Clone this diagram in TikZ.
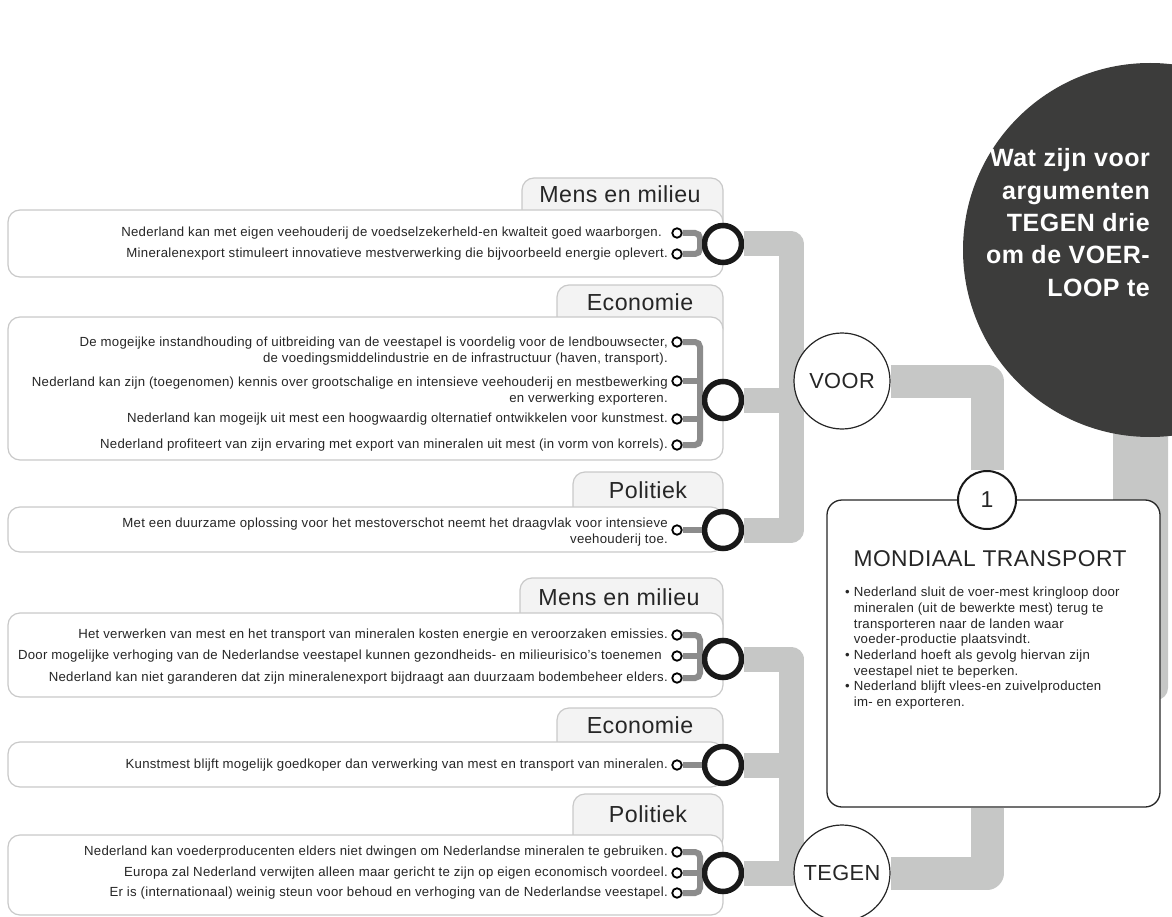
\documentclass[tikz,border=0pt]{standalone}
\usepackage{fontspec}
\setmainfont{Liberation Sans}[LetterSpace=2]
\usetikzlibrary{calc}

\definecolor{bandgray}{HTML}{C6C7C6}
\definecolor{linkgray}{HTML}{8C8C8C}
\definecolor{framegray}{HTML}{C9C9C9}
\definecolor{tabgray}{HTML}{F3F3F3}
\definecolor{darkdisc}{HTML}{3C3C3B}
\definecolor{inkgray}{HTML}{262626}

\begin{document}
\begin{tikzpicture}[x=1pt,y=-1pt,
	band/.style={draw=bandgray, line width=25, line join=round},
	wideband/.style={draw=bandgray, line width=33, line join=round},
	link/.style={draw=linkgray, line width=6, rounded corners=5},
	dot/.style={circle, draw=black, line width=1.8, fill=white, minimum size=9.5, inner sep=0},
	ring/.style={circle, draw=black!90, line width=5.5, fill=white, minimum size=37, inner sep=0},
	tab/.style={draw=framegray, fill=tabgray, line width=1.2, rounded corners=12},
	panel/.style={draw=framegray, fill=white, line width=1.2, rounded corners=12},
	item/.style={anchor=east, align=right, inner sep=0, text=inkgray, font=\fontsize{13.2}{16}\selectfont},
	cat/.style={anchor=base, inner sep=0, text=inkgray, font=\fontsize{23.2}{27}\selectfont},
	side/.style={circle, draw=inkgray, line width=1.2, fill=white, minimum size=96, inner sep=0, text=inkgray, font=\fontsize{21.8}{25}\selectfont}
	]
	\useasboundingbox (0,0) rectangle (1172,917);
	\clip (0,0) rectangle (1172,917);
	\def\lx{8} % left edge of the panels
	\def\rx{723} % right edge of the panels, centre of the rings
	\def\bx{677} % small rings
	\def\tx{668} % right edge of the texts
	\def\jx{700} % bracket of the small rings
	\def\vx{791} % grey bars on the left
	\def\mx{986} % grey bar through the centre box
	
	% right grey bar, behind the disc and the box
	\fill[bandgray, rounded corners=12] (1113,380) rectangle (1168,700);
	
	% VOOR: mens en milieu
	\draw[tab] (522,178) rectangle (\rx,240);
	\draw[panel] (\lx,210) rectangle (\rx,277);
	\node[cat] (cat1) at (620,203) {Mens en milieu};
	\node[item] (t11) at (662,233) {Nederland kan met eigen veehouderij de voedselzekerheld-en kwalteit goed waarborgen.};
	\node[item] (t12) at (\tx,254) {Mineralenexport stimuleert innovatieve mestverwerking die bijvoorbeeld energie oplevert.};
	\node[dot] (d11) at (\bx,233) {};
	\node[dot] (d12) at (\bx,254) {};
	\coordinate (j1) at (\jx,244);
	\draw[link] (d11) -| (j1) |- (d12);
	\node[ring] (r1) at (\rx,244) {};
	\draw[link] (j1) -- (r1);
	
	% VOOR: economie
	\draw[tab] (557,285) rectangle (\rx,340);
	\draw[panel] (\lx,317) rectangle (\rx,460);
	\node[cat] (cat2) at (640,310) {Economie};
	\node[item] (t21) at (\tx,351) {De mogeijke instandhouding of uitbreiding van de veestapel is voordelig voor de lendbouwsecter,\\de voedingsmiddelindustrie en de infrastructuur (haven, transport).};
	\node[item] (t22) at (\tx,391) {Nederland kan zijn (toegenomen) kennis over grootschalige en intensieve veehouderij en mestbewerking\\en verwerking exporteren.};
	\node[item] (t23) at (\tx,419) {Nederland kan mogeijk uit mest een hoogwaardig olternatief ontwikkelen voor kunstmest.};
	\node[item] (t24) at (\tx,445) {Nederland profiteert van zijn ervaring met export van mineralen uit mest (in vorm von korrels).};
	\node[dot] (d21) at (\bx,342) {};
	\node[dot] (d22) at (\bx,381) {};
	\node[dot] (d23) at (\bx,419) {};
	\node[dot] (d24) at (\bx,445) {};
	\coordinate (j2) at (\jx,400);
	\draw[link] (d21) -| (j2) |- (d24);
	\draw[link] (d22) -- (d22 -| j2);
	\draw[link] (d23) -- (d23 -| j2);
	\node[ring] (r2) at (\rx,400) {};
	\draw[link] (j2) -- (r2);
	
	% VOOR: politiek
	\draw[tab] (573,472) rectangle (\rx,530);
	\draw[panel] (\lx,507) rectangle (\rx,552);
	\node[cat] (cat3) at (648,498) {Politiek};
	\node[item] (t31) at (\tx,532) {Met een duurzame oplossing voor het mestoverschot neemt het draagvlak voor intensieve\\veehouderij toe.};
	\node[dot] (d31) at (\bx,530) {};
	\node[ring] (r3) at (\rx,530) {};
	\draw[link] (d31) -- (r3);
	
	% TEGEN: mens en milieu
	\draw[tab] (520,578) rectangle (\rx,640);
	\draw[panel] (\lx,613) rectangle (\rx,697);
	\node[cat] (cat4) at (619,605) {Mens en milieu};
	\node[item] (t41) at (\tx,635) {Het verwerken van mest en het transport van mineralen kosten energie en veroorzaken emissies.};
	\node[item] (t42) at (662,656) {Door mogelijke verhoging van de Nederlandse veestapel kunnen gezondheids- en milieurisico’s toenemen};
	\node[item] (t43) at (\tx,678) {Nederland kan niet garanderen dat zijn mineralenexport bijdraagt aan duurzaam bodembeheer elders.};
	\node[dot] (d41) at (\bx,635) {};
	\node[dot] (d42) at (\bx,656) {};
	\node[dot] (d43) at (\bx,678) {};
	\coordinate (j4) at (\jx,659);
	\draw[link] (d41) -| (j4) |- (d43);
	\draw[link] (d42) -- (d42 -| j4);
	\node[ring] (r4) at (\rx,659) {};
	\draw[link] (j4) -- (r4);
	
	% TEGEN: economie
	\draw[tab] (557,708) rectangle (\rx,760);
	\draw[panel] (\lx,742) rectangle (\rx,787);
	\node[cat] (cat5) at (640,733) {Economie};
	\node[item] (t51) at (\tx,765) {Kunstmest blijft mogelijk goedkoper dan verwerking van mest en transport van mineralen.};
	\node[dot] (d51) at (\bx,765) {};
	\node[ring] (r5) at (\rx,765) {};
	\draw[link] (d51) -- (r5);
	
	% TEGEN: politiek
	\draw[tab] (573,794) rectangle (\rx,850);
	\draw[panel] (\lx,835) rectangle (\rx,915);
	\node[cat] (cat6) at (648,822) {Politiek};
	\node[item] (t61) at (\tx,852) {Nederland kan voederproducenten elders niet dwingen om Nederlandse mineralen te gebruiken.};
	\node[item] (t62) at (\tx,873) {Europa zal Nederland verwijten alleen maar gericht te zijn op eigen economisch voordeel.};
	\node[item] (t63) at (\tx,893) {Er is (internationaal) weinig steun voor behoud en verhoging van de Nederlandse veestapel.};
	\node[dot] (d61) at (\bx,852) {};
	\node[dot] (d62) at (\bx,873) {};
	\node[dot] (d63) at (\bx,893) {};
	\coordinate (j6) at (\jx,873);
	\draw[link] (d61) -| (j6) |- (d63);
	\draw[link] (d62) -- (j6);
	\node[ring] (r6) at (\rx,873) {};
	\draw[link] (j6) -- (r6);
	
	% grey bars from the rings
	\coordinate (v1) at (\vx,400);
	\draw[band] (r1) -| (v1) |- (r3);
	\draw[band] (r2) -- (v1);
	\coordinate (v2) at (\vx,765);
	\draw[band] (r4) -| (v2) |- (r6);
	\draw[band] (r5) -- (v2);
	
	% voor and tegen
	\node[side] (voor) at (842,381) {VOOR};
	\node[side] (tegen) at (842,873) {TEGEN};
	
	% centre box
	\node[draw=inkgray, line width=1.3, fill=white, rounded corners=15, minimum width=333, minimum height=307, inner sep=0] (mond) at (993.5,653.5) {};
	\node[circle, draw=black!90, line width=2, fill=white, minimum size=58, inner sep=0, text=inkgray, font=\fontsize{23}{26}\selectfont] (one) at (\mx+1,500) {1};
	\draw[wideband] (voor) -| (one);
	\draw[wideband] (mond.south -| one) |- (tegen);
	\node[anchor=base, inner sep=0, text=inkgray, font=\fontsize{22.8}{26}\selectfont] (mtitle) at (990,566) {MONDIAAL TRANSPORT};
	\node[anchor=north west, inner sep=0, text=inkgray, font=\fontsize{13.2}{15.7}\selectfont] (mlist) at (845,585.5) {%
		\begin{tabular}{@{}l@{\hspace{4pt}}l@{}}
			•&Nederland sluit de voer-mest kringloop door\\
			&mineralen (uit de bewerkte mest) terug te\\
			&transporteren naar de landen waar\\
			&voeder-productie plaatsvindt.\\
			•&Nederland hoeft als gevolg hiervan zijn\\
			&veestapel niet te beperken.\\
			•&Nederland blijft vlees-en zuivelproducten\\
			&im- en exporteren.
		\end{tabular}};
	
	% dark disc with the question
	\fill[darkdisc] (1150,250) circle (187);
	\node[anchor=east, align=right, inner sep=0, text=white, font=\bfseries\fontsize{25}{32.3}\selectfont] (vraag) at (1150,222.5) {Wat zijn voor\\argumenten\\TEGEN drie\\om de VOER-\\LOOP te};
\end{tikzpicture}
\end{document}
